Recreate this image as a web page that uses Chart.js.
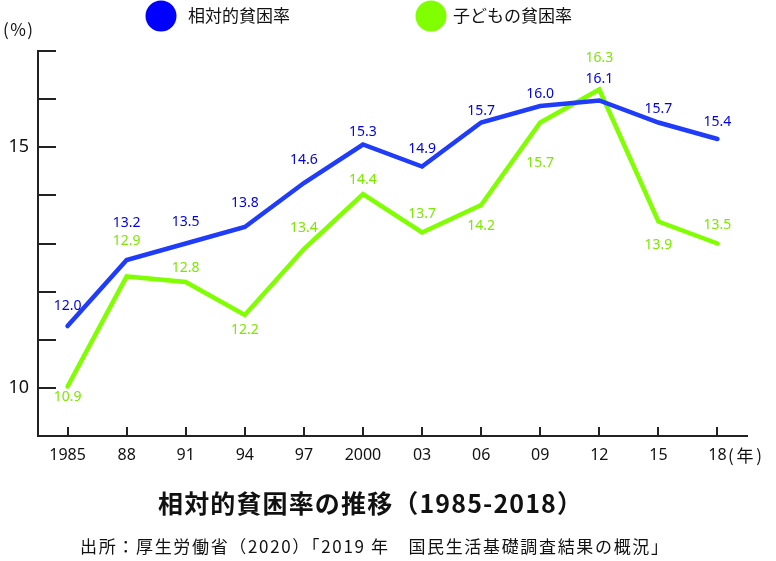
<!DOCTYPE html>
<html>
<head>
<meta charset="utf-8">
<script src="https://cdn.jsdelivr.net/npm/chart.js@4/dist/chart.umd.min.js"></script>
<style>
  html, body { margin: 0; padding: 0; background: #fff; }
  #wrap { width: 776px; height: 561px; }
</style>
</head>
<body>
<div id="wrap"><canvas id="chart" width="776" height="561"></canvas></div>
<script>
// data
const years = ['1985', '88', '91', '94', '97', '2000', '03', '06', '09', '12', '15', '18'];
const relativePoverty = [12.0, 13.2, 13.5, 13.8, 14.6, 15.3, 14.9, 15.7, 16.0, 16.1, 15.7, 15.4];
const childPoverty = [10.9, 12.9, 12.8, 12.2, 13.4, 14.4, 13.7, 14.2, 15.7, 16.3, 13.9, 13.5];
const yTickLabels = [10, 15];

const seriesNames = ['相対的貧困率', '子どもの貧困率'];
const titleText = '相対的貧困率の推移（1985-2018）';
const sourceText = '出所：厚生労働省（2020）「2019 年　国民生活基礎調査結果の概況」';

// where each value label sits relative to its point (px, + = below)
const blueLabelShift = [-20, -37, -21, -24, -23, -12, -17, -11, -12, -21, -13, -17];
const greenLabelShift = [11, -35, -14, 15, -21, -14, -18, 21, 41, -31, 24, -18];

const BLUE_LINE = '#1e3cfa';
const BLUE_TEXT = '#0000e6';
const GREEN_LINE = '#80ff00';
const GREEN_TEXT = '#7de800';
const AXIS = '#222';
const NUM_FONT = '"Noto Sans", "DejaVu Sans", sans-serif';
const JP_FONT = '"Noto Sans CJK JP", "Noto Sans", sans-serif';

// draw text stretched with letter spacing so it spans from left to right
function fitText(ctx, text, left, right, y) {
    ctx.letterSpacing = '0px';
    const w = ctx.measureText(text).width;
    const n = Array.from(text).length;
    const sp = Math.max(0, (right - left - w) / (n - 1));
    ctx.letterSpacing = sp + 'px';
    ctx.textAlign = 'left';
    ctx.fillText(text, left, y);
    ctx.letterSpacing = '0px';
}

// tick marks drawn inward, value labels, legend and titles
const decorations = {
    id: 'decorations',
    afterDraw(chart) {
        const ctx = chart.ctx;
        const area = chart.chartArea;
        const x = chart.scales.x;
        const y = chart.scales.y;

        ctx.save();
        ctx.strokeStyle = AXIS;
        ctx.lineWidth = 2;
        y.ticks.forEach(t => {
            const py = Math.round(y.getPixelForValue(t.value));
            ctx.beginPath();
            ctx.moveTo(area.left, py);
            ctx.lineTo(area.left + 18, py);
            ctx.stroke();
        });
        years.forEach((_, i) => {
            const px = Math.round(x.getPixelForValue(i));
            ctx.beginPath();
            ctx.moveTo(px, area.bottom);
            ctx.lineTo(px, area.bottom - 9);
            ctx.stroke();
        });

        // value labels
        ctx.font = '14px ' + NUM_FONT;
        ctx.textAlign = 'center';
        ctx.textBaseline = 'middle';
        const shifts = [blueLabelShift, greenLabelShift];
        const colors = [BLUE_TEXT, GREEN_TEXT];
        chart.data.datasets.forEach((ds, d) => {
            const meta = chart.getDatasetMeta(d);
            ctx.fillStyle = colors[d];
            meta.data.forEach((pt, i) => {
                ctx.fillText(ds.data[i].toFixed(1), pt.x, pt.y + shifts[d][i]);
            });
        });

        // legend
        const legend = [
            { cx: 161, color: '#0000ff', text: seriesNames[0], tx: 188 },
            { cx: 431, color: GREEN_LINE, text: seriesNames[1], tx: 453 }
        ];
        ctx.textAlign = 'left';
        ctx.font = '17px ' + JP_FONT;
        legend.forEach(l => {
            ctx.fillStyle = l.color;
            ctx.beginPath();
            ctx.arc(l.cx, 16, 15.5, 0, Math.PI * 2);
            ctx.fill();
            ctx.fillStyle = '#111';
            ctx.fillText(l.text, l.tx, 16);
        });

        // unit labels
        ctx.fillStyle = '#111';
        ctx.font = '17px ' + JP_FONT;
        fitText(ctx, '(%)', 3, 33, 30);
        fitText(ctx, '(年)', 728, 762, 456);

        // title and source
        ctx.font = 'bold 25px ' + JP_FONT;
        fitText(ctx, titleText, 158, 582, 503);
        ctx.font = '17px ' + JP_FONT;
        fitText(ctx, sourceText, 80, 668, 547);
        ctx.restore();
    }
};

const ctx = document.getElementById('chart').getContext('2d');
const chart = new Chart(ctx, {
    type: 'line',
    data: {
        labels: years,
        datasets: [{
            label: seriesNames[0],
            data: relativePoverty,
            yAxisID: 'yd',
            borderColor: BLUE_LINE,
            borderWidth: 4.5,
            borderCapStyle: 'round',
            pointRadius: 0,
            tension: 0
        }, {
            label: seriesNames[1],
            data: childPoverty,
            yAxisID: 'yd',
            borderColor: GREEN_LINE,
            borderWidth: 4.5,
            borderCapStyle: 'round',
            pointRadius: 0,
            tension: 0
        }]
    },
    options: {
        responsive: false,
        animation: false,
        layout: { padding: { top: 51, right: 29, bottom: 95, left: 0 } },
        plugins: {
            legend: { display: false },
            tooltip: { enabled: false }
        },
        scales: {
            x: {
                offset: true,
                grid: { display: false, drawTicks: false },
                border: { display: true, color: AXIS, width: 2 },
                ticks: {
                    color: '#111',
                    font: { family: NUM_FONT, size: 16 },
                    padding: 10,
                    maxRotation: 0,
                    autoSkip: false
                },
                afterFit: s => { s.height = 30; }
            },
            y: {
                min: 9,
                max: 17,
                grid: { display: false, drawTicks: false },
                border: { display: true, color: AXIS, width: 2 },
                ticks: {
                    stepSize: 1,
                    color: '#111',
                    font: { family: NUM_FONT, size: 18 },
                    padding: 9,
                    callback: v => yTickLabels.includes(v) ? String(v) : ''
                },
                afterFit: s => { s.width = 38; }
            },
            yd: {
                min: 10,
                max: 17,
                display: false
            }
        }
    },
    plugins: [decorations]
});
</script>
</body>
</html>
